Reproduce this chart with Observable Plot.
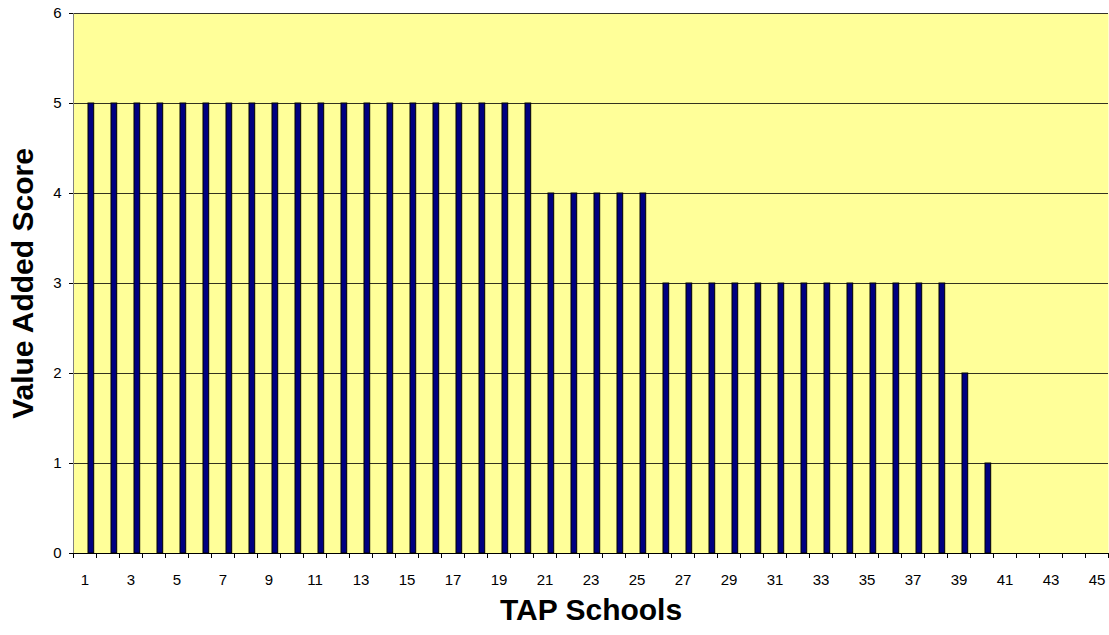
<!DOCTYPE html>
<html>
<head>
<meta charset="utf-8">
<script src="https://cdn.jsdelivr.net/npm/d3@7"></script>
<script src="https://cdn.jsdelivr.net/npm/@observablehq/plot@0.6"></script>
<style>
  html, body { margin: 0; padding: 0; background: #fff; }
  svg { display: block; }
</style>
</head>
<body>
<div id="chart"></div>
<script>
const schools = [1,2,3,4,5,6,7,8,9,10,11,12,13,14,15,16,17,18,19,20,21,22,23,24,25,26,27,28,29,30,31,32,33,34,35,36,37,38,39,40,41,42,43,44,45];
const scores  = [5,5,5,5,5,5,5,5,5,5,5,5,5,5,5,5,5,5,5,5,4,4,4,4,4,3,3,3,3,3,3,3,3,3,3,3,3,3,2,1,0,0,0,0,0];
const yTicks = [0,1,2,3,4,5,6];
const xLabelTicks = [1,3,5,7,9,11,13,15,17,19,21,23,25,27,29,31,33,35,37,39,41,43,45];
const xTitle = "TAP Schools";
const yTitle = "Value Added Score";

const data = schools.map((s, i) => ({school: s, score: scores[i]}));
const boundaries = [0.5, ...schools.map(s => s + 0.5)];

const chart = Plot.plot({
  width: 1109,
  height: 635,
  marginLeft: 73,
  marginRight: 1,
  marginTop: 13,
  marginBottom: 82,
  style: {fontFamily: "'Liberation Sans', Arial, sans-serif", fontSize: "15px", background: "#fff", color: "#000"},
  x: {domain: [0.5, 45.5], axis: null},
  y: {domain: [0, 6], axis: null},
  marks: [
    Plot.frame({fill: "#FFFF99", stroke: null}),
    Plot.gridY(yTicks.filter(d => d > 0), {stroke: "#000", strokeOpacity: 0.8, strokeWidth: 1}),
    Plot.rectY(data.filter(d => d.score > 0), {
      x1: d => d.school - 0.5,
      x2: d => d.school + 0.5,
      y: "score",
      insetLeft: 15,
      insetRight: 2.3,
      fill: "#000080",
      stroke: "#000",
      strokeWidth: 1
    }),
    Plot.ruleX([0.5], {stroke: "#808080"}),
    Plot.ruleY([0], {stroke: "#000"}),
    Plot.axisY({ticks: yTicks, tickSize: 4, tickPadding: 8, tickFormat: d3.format("d"), stroke: "#000", fontSize: 15, label: null}),
    Plot.axisX({ticks: xLabelTicks, tickSize: 0, tickPadding: 21, tickFormat: d3.format("d"), fontSize: 15, label: null}),
    Plot.axisX({ticks: boundaries, tickSize: 5, tickFormat: () => "", stroke: "#000", label: null}),
    Plot.text([xTitle], {frameAnchor: "bottom", dy: 66, fontSize: 30, fontWeight: "bold", fill: "#000"}),
    Plot.text([yTitle], {frameAnchor: "left", textAnchor: "middle", dx: -50, rotate: -90, fontSize: 30, fontWeight: "bold", fill: "#000"})
  ]
});
document.getElementById("chart").appendChild(chart);
</script>
</body>
</html>
